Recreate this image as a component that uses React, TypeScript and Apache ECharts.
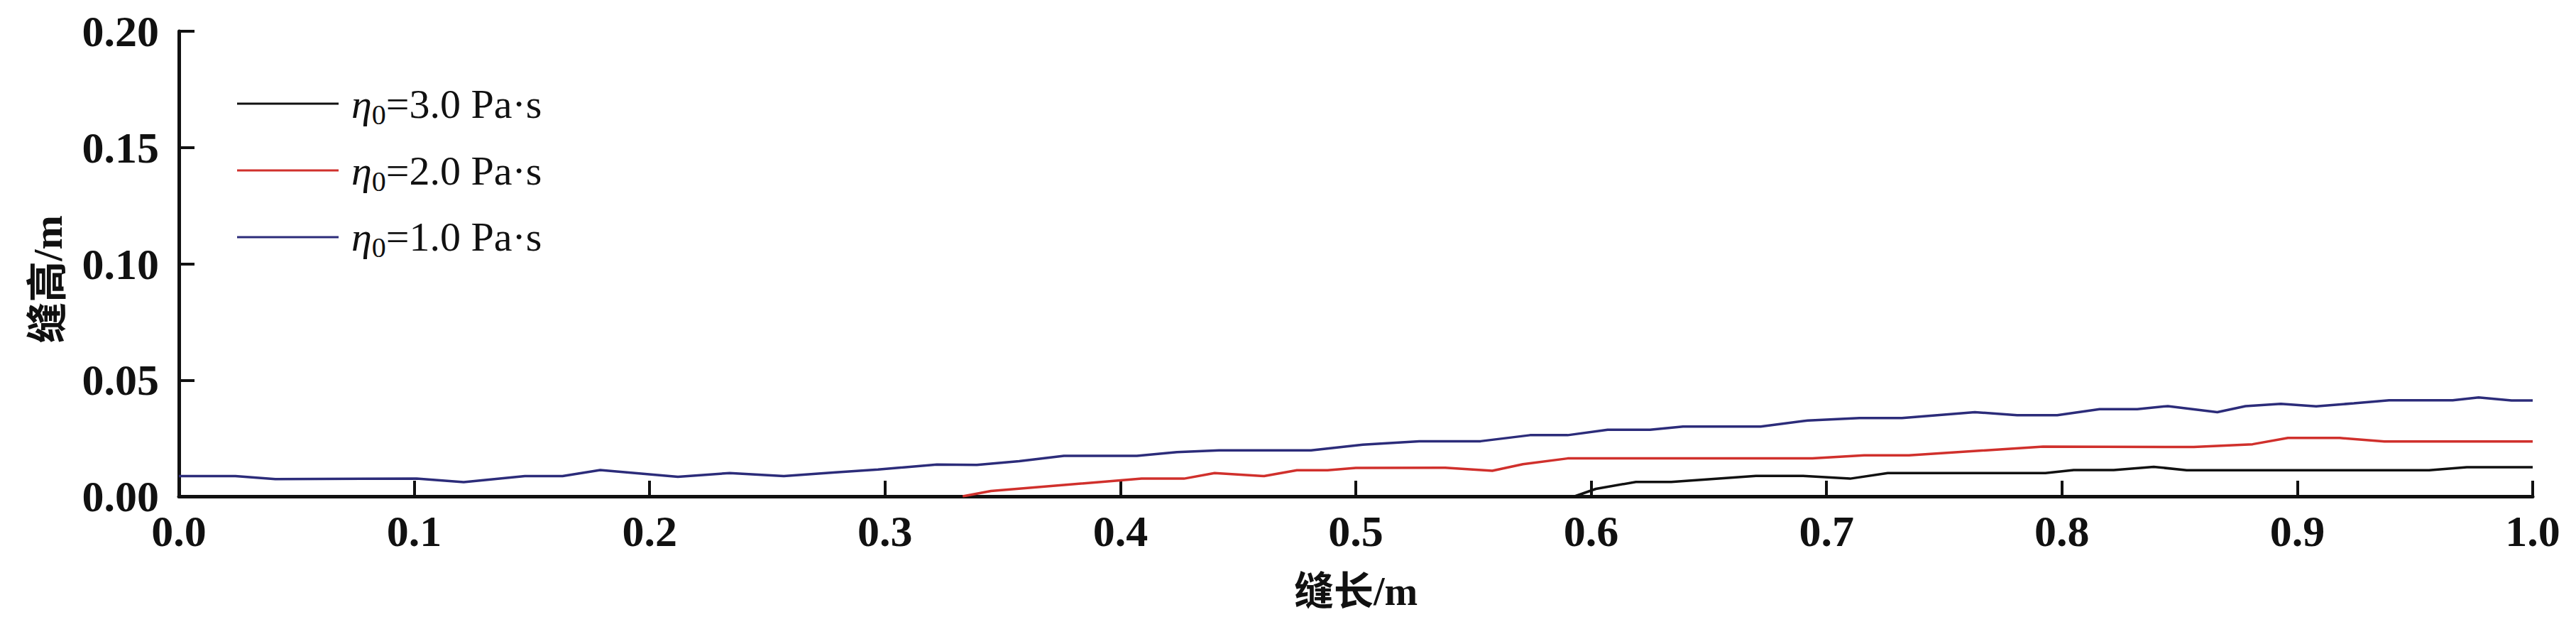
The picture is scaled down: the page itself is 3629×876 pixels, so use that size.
import React, { useEffect, useRef } from "react";
import * as echarts from "echarts";

const seriesNames = ["η0=3.0 Pa·s", "η0=2.0 Pa·s", "η0=1.0 Pa·s"];
const seriesColors = ["#111111", "#d0302c", "#2c2c7a"];

const xAxisName = "缝长/m";
const yAxisName = "缝高/m";
const xMin = 0;
const xMax = 1;
const xInterval = 0.1;
const yMin = 0;
const yMax = 0.2;
const yInterval = 0.05;

// η0 = 3.0 Pa·s
const blackX = [0.593, 0.602, 0.619, 0.634, 0.670, 0.690, 0.710, 0.726, 0.793, 0.805, 0.822, 0.839, 0.853, 0.956, 0.972, 1.0];
const blackY = [0, 0.0032, 0.0062, 0.0062, 0.0088, 0.0088, 0.0076, 0.0100, 0.0100, 0.0113, 0.0113, 0.0127, 0.0112, 0.0112, 0.0125, 0.0125];

// η0 = 2.0 Pa·s
const redX = [0.333, 0.345, 0.400, 0.409, 0.427, 0.440, 0.461, 0.475, 0.488, 0.500, 0.538, 0.558, 0.571, 0.590, 0.694, 0.716, 0.735, 0.792, 0.856, 0.881, 0.896, 0.918, 0.937, 1.0];
const redY = [0, 0.0023, 0.0069, 0.0076, 0.0076, 0.0100, 0.0087, 0.0112, 0.0112, 0.0122, 0.0123, 0.0110, 0.0138, 0.0163, 0.0163, 0.0176, 0.0176, 0.0214, 0.0212, 0.0224, 0.0251, 0.0251, 0.0236, 0.0236];

// η0 = 1.0 Pa·s
const blueX = [0, 0.024, 0.041, 0.101, 0.121, 0.147, 0.163, 0.179, 0.212, 0.234, 0.257, 0.279, 0.297, 0.322, 0.339, 0.357, 0.376, 0.407, 0.424, 0.442, 0.481, 0.503, 0.527, 0.553, 0.574, 0.590, 0.607, 0.625, 0.639, 0.672, 0.692, 0.714, 0.732, 0.763, 0.781, 0.798, 0.816, 0.832, 0.845, 0.866, 0.878, 0.893, 0.908, 0.924, 0.939, 0.966, 0.977, 0.991, 1.0];
const blueY = [0.0087, 0.0087, 0.0074, 0.0076, 0.0061, 0.0087, 0.0087, 0.0113, 0.0084, 0.0100, 0.0087, 0.0103, 0.0115, 0.0137, 0.0135, 0.0151, 0.0174, 0.0174, 0.0190, 0.0198, 0.0198, 0.0222, 0.0237, 0.0237, 0.0263, 0.0263, 0.0286, 0.0286, 0.0300, 0.0300, 0.0326, 0.0337, 0.0337, 0.0362, 0.0349, 0.0349, 0.0375, 0.0375, 0.0388, 0.0362, 0.0388, 0.0398, 0.0387, 0.0400, 0.0413, 0.0413, 0.0425, 0.0412, 0.0412];

const xs = [blackX, redX, blueX];
const ys = [blackY, redY, blueY];

const FONT = "'Liberation Serif', 'Times New Roman', 'Noto Sans CJK SC', serif";

export default function App() {
  const ref = useRef<HTMLDivElement>(null);
  useEffect(() => {
    const chart = echarts.init(ref.current as HTMLDivElement, null, { renderer: "svg" });
    const series = seriesNames.map((name, i) => ({
      name,
      type: "line",
      showSymbol: false,
      symbol: "none",
      data: xs[i].map((x, j) => [x, ys[i][j]]),
      lineStyle: { color: seriesColors[i], width: 3.5 },
      itemStyle: { color: seriesColors[i] },
      z: 3,
    }));
    chart.setOption({
      animation: false,
      backgroundColor: "#ffffff",
      grid: { left: 252, right: 61, top: 44, bottom: 177, containLabel: false },
      legend: {
        orient: "vertical",
        left: 329,
        top: 106,
        icon: "rect",
        itemWidth: 143,
        itemHeight: 3,
        itemGap: 24,
        data: seriesNames,
        formatter: (name: string) => {
          const rest = name.replace(/^η0/, "");
          return `{eta|η}{sub|0}{rest|${rest}}`;
        },
        textStyle: {
          color: "#111",
          padding: [0, 0, 0, 13],
          rich: {
            eta: { fontFamily: FONT, fontStyle: "italic", fontSize: 58, lineHeight: 70, color: "#111" },
            sub: { fontFamily: FONT, fontSize: 40, lineHeight: 70, padding: [30, 0, 0, 0], color: "#111" },
            rest: { fontFamily: FONT, fontSize: 58, lineHeight: 70, color: "#111" },
          },
        },
      },
      xAxis: {
        type: "value",
        min: xMin,
        max: xMax,
        interval: xInterval,
        name: xAxisName,
        nameLocation: "middle",
        nameGap: 106,
        nameTextStyle: { fontFamily: FONT, fontSize: 56, fontWeight: "bold", color: "#111" },
        axisLine: { show: true, onZero: false, lineStyle: { color: "#111", width: 5 } },
        axisTick: { show: true, inside: true, length: 22, lineStyle: { color: "#111", width: 4 } },
        axisLabel: {
          margin: 18,
          fontFamily: FONT,
          fontSize: 62,
          fontWeight: "bold",
          color: "#111",
          formatter: (v: number) => v.toFixed(1),
        },
        splitLine: { show: false },
      },
      yAxis: {
        type: "value",
        min: yMin,
        max: yMax,
        interval: yInterval,
        name: yAxisName,
        nameLocation: "middle",
        nameGap: 156,
        nameTextStyle: {
          fontFamily: FONT,
          fontSize: 58,
          fontWeight: "bold",
          color: "#111",
          padding: [0, 44, 0, 0],
        },
        axisLine: { show: true, onZero: false, lineStyle: { color: "#111", width: 5 } },
        axisTick: { show: true, inside: true, length: 22, lineStyle: { color: "#111", width: 4 } },
        axisLabel: {
          margin: 28,
          fontFamily: FONT,
          fontSize: 62,
          fontWeight: "bold",
          color: "#111",
          formatter: (v: number) => v.toFixed(2),
        },
        splitLine: { show: false },
      },
      series,
    });
    return () => chart.dispose();
  }, []);
  return (
    <div
      ref={ref}
      style={{ position: "absolute", left: 0, top: 0, width: 3629, height: 876, background: "#fff" }}
    />
  );
}
